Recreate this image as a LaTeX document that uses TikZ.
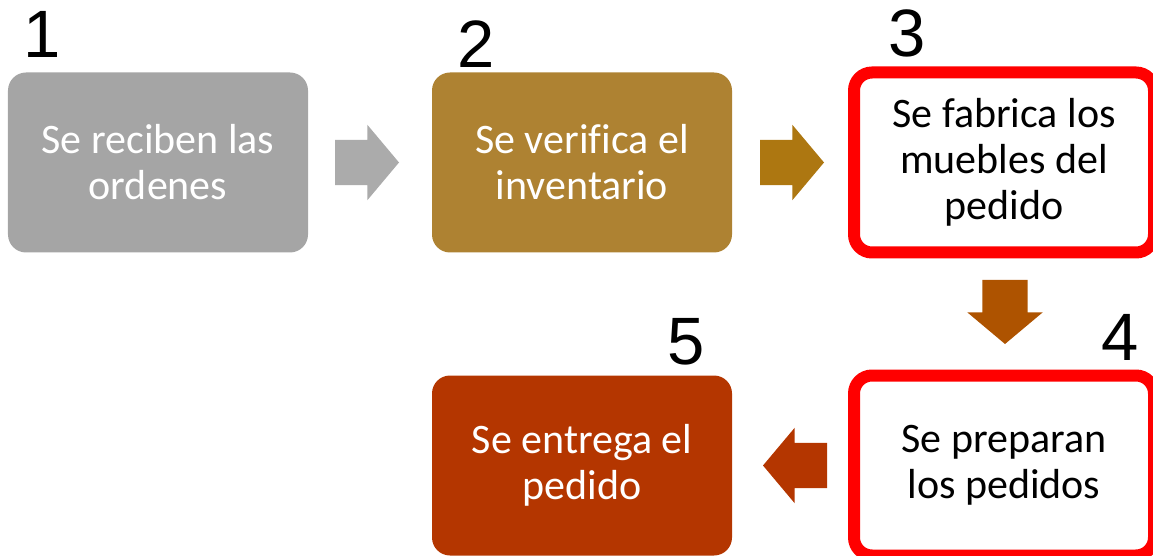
\documentclass[tikz,border=0pt]{standalone}
\usepackage{fontspec}
\setmainfont{Carlito}[Ligatures=NoCommon]
\newfontfamily\numfont{Liberation Sans}
\usetikzlibrary{shapes,shapes.arrows,positioning,calc}
\definecolor{boxgray}{HTML}{A5A5A5}
\definecolor{arrowgray}{HTML}{ABABAB}
\definecolor{boxgold}{HTML}{AE8232}
\definecolor{arrowgold}{HTML}{AD7711}
\definecolor{arrowrust}{HTML}{AE5300}
\definecolor{boxbrick}{HTML}{B43600}
\definecolor{boxred}{HTML}{FF0000}

\begin{document}
\begin{tikzpicture}
				\tikzstyle{pbox}=[rectangle, rounded corners=18pt, minimum width=300pt, minimum height=180pt, inner sep=0pt, outer sep=0pt, align=center, font=\fontsize{42}{46}\selectfont]
				\tikzstyle{fbox}=[pbox, text=white]
				\tikzstyle{rbox}=[pbox, draw=boxred, line width=12pt, fill=white]
				\tikzstyle{barrow}=[single arrow, minimum height=64pt, minimum width=75pt, text height=22.5pt, text depth=22.5pt, single arrow head extend=15pt, single arrow tip angle=100, inner sep=0pt, outer sep=0pt, anchor=tail]
				\tikzstyle{num}=[font=\numfont\fontsize{67}{67}\selectfont, inner sep=0pt]
				\useasboundingbox (-158pt,-393.5pt) rectangle (995pt,162.5pt);
				\node[fbox, fill=boxgray] (recibe) {Se reciben las\\ordenes};
				\node[fbox, fill=boxgold, right=124pt of recibe] (verifica) {Se verifica el\\inventario};
				\node[rbox, right=122pt of verifica] (fabrica) {Se fabrica los\\muebles del\\pedido};
				\node[rbox, below=123pt of fabrica] (prepara) {Se preparan\\los pedidos};
				\node[fbox, fill=boxbrick, left=122pt of prepara] (entrega) {Se entrega el\\pedido};
				\node[barrow, fill=arrowgray] (a1) at ($(recibe.east)+(27pt,0)$) {};
				\node[barrow, fill=arrowgold] (a2) at ($(verifica.east)+(28pt,0)$) {};
				\node[barrow, fill=arrowrust, rotate=270] (a3) at ($(fabrica.south)+(1pt,-27.5pt)$) {};
				\node[barrow, fill=boxbrick, rotate=180] (a4) at ($(prepara.west)+(-27pt,0)$) {};
				\node[num] (n1) at ($(recibe.north west)+(34pt,38.5pt)$) {1};
				\node[num] (n2) at ($(verifica.north west)+(44pt,28.5pt)$) {2};
				\node[num] (n3) at ($(fabrica.north west)+(53pt,39.5pt)$) {3};
				\node[num] (n4) at ($(prepara.north east)+(-34pt,38.5pt)$) {4};
				\node[num] (n5) at ($(entrega.north east)+(-46pt,33.5pt)$) {5};
			\end{tikzpicture}
\end{document}
